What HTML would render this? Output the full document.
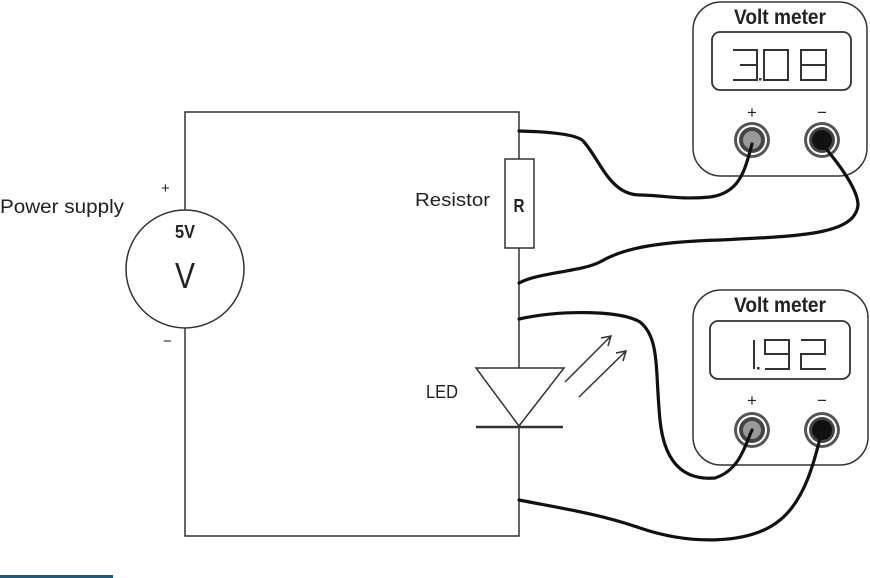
<!DOCTYPE html>
<html><head><style>
html,body{margin:0;padding:0;background:#fff;width:870px;height:578px;overflow:hidden}
text{font-family:"Liberation Sans",sans-serif;fill:#222}
</style></head><body>
<svg width="870" height="578" viewBox="0 0 870 578" xmlns="http://www.w3.org/2000/svg">
<g fill="none" stroke="#333" stroke-width="1.5">
<path d="M185 210 V112 H519 V159 M519 248 V368 M519 427 V536 H185 V328"/>
<circle cx="185" cy="269" r="59"/>
<rect x="505" y="159" width="29" height="89" fill="#fff"/>
<path d="M476 368 H564 L519 426 Z"/>
<path d="M476 427 H563" stroke-width="2.5"/>
<path d="M565 382 L611 336 M601 338 L611 336 L608 346"/>
<path d="M579 397 L626 351 M616 353 L626 351 L623 361"/>
</g>
<text x="0" y="213" font-size="19" textLength="124" lengthAdjust="spacingAndGlyphs">Power supply</text>
<text x="161" y="193" font-size="15">+</text>
<text x="163" y="346" font-size="15">−</text>
<text x="185" y="238" font-size="18" text-anchor="middle" font-weight="bold" textLength="20" lengthAdjust="spacingAndGlyphs">5V</text>
<text x="185" y="288" font-size="36" text-anchor="middle" textLength="20" lengthAdjust="spacingAndGlyphs">V</text>
<text x="415" y="206" font-size="18" textLength="75" lengthAdjust="spacingAndGlyphs">Resistor</text>
<text x="519" y="212" font-size="18" text-anchor="middle" font-weight="bold" textLength="11" lengthAdjust="spacingAndGlyphs">R</text>
<text x="426" y="398" font-size="18" textLength="32" lengthAdjust="spacingAndGlyphs">LED</text>

<g>
<rect x="693" y="2" width="174" height="174" rx="28" fill="#fff" stroke="#333" stroke-width="1.5"/>
<text x="734" y="24" font-size="21" font-weight="bold" textLength="92" lengthAdjust="spacingAndGlyphs">Volt meter</text>
<rect x="712" y="32" width="139" height="58" rx="8" fill="#fff" stroke="#333" stroke-width="1.8"/>
<g fill="none" stroke="#333" stroke-width="2">
<path d="M733 50 H757 V80 H733 M740 65 H757"/>
<path d="M764 50 H788 V80 H764 Z"/>
<path d="M801 50 H826 V80 H801 Z M801 65 H826"/>
</g>
<rect x="759" y="78" width="2.5" height="2.5" fill="#333"/>
<text x="752" y="118" font-size="17" text-anchor="middle">+</text>
<text x="822" y="118" font-size="17" text-anchor="middle">−</text>
<circle cx="752" cy="140" r="18" fill="#555"/><circle cx="752" cy="140" r="15" fill="#fff"/><circle cx="752" cy="140" r="13" fill="#444"/><circle cx="752" cy="140" r="9" fill="#999"/>
<circle cx="822" cy="140" r="18" fill="#555"/><circle cx="822" cy="140" r="15" fill="#fff"/><circle cx="822" cy="140" r="13" fill="#444"/><circle cx="822" cy="140" r="10" fill="#111"/>
</g>
<g>
<rect x="693" y="290" width="175" height="175" rx="28" fill="#fff" stroke="#333" stroke-width="1.5"/>
<text x="734" y="312" font-size="21" font-weight="bold" textLength="92" lengthAdjust="spacingAndGlyphs">Volt meter</text>
<rect x="710" y="321" width="140" height="58" rx="8" fill="#fff" stroke="#333" stroke-width="1.8"/>
<g fill="none" stroke="#333" stroke-width="2">
<path d="M754 340 V369"/>
<path d="M789 354 H765 V340 H789 V369 H765"/>
<path d="M801 340 H825 V354 H801 V369 H826"/>
</g>
<rect x="757" y="367" width="2.5" height="2.5" fill="#333"/>
<text x="752" y="406" font-size="17" text-anchor="middle">+</text>
<text x="822" y="406" font-size="17" text-anchor="middle">−</text>
<circle cx="752" cy="430" r="18" fill="#555"/><circle cx="752" cy="430" r="15" fill="#fff"/><circle cx="752" cy="430" r="13" fill="#444"/><circle cx="752" cy="430" r="9" fill="#999"/>
<circle cx="822" cy="430" r="18" fill="#555"/><circle cx="822" cy="430" r="15" fill="#fff"/><circle cx="822" cy="430" r="13" fill="#444"/><circle cx="822" cy="430" r="10" fill="#111"/>
</g>
<g fill="none" stroke="#111" stroke-width="3.2" stroke-linecap="round">
<path d="M519 131 C560 132 580 136 584 142 C600 160 610 195 640 195 C660 195 680 200 710 197 C740 193 745 170 752 144"/>
<path d="M822 144 C840 165 858 190 858 205 C855 235 800 236 720 240 C650 242 620 250 600 262 C580 272 540 272 519 283"/>
<path d="M519 319 C560 310 620 310 640 322 C660 338 655 370 660 420 C665 470 690 480 715 478 C740 470 745 445 752 430"/>
<path d="M822 430 C815 460 805 500 780 520 C750 545 690 545 640 528 C600 514 560 508 519 500"/>
</g>
<rect x="0" y="575" width="113" height="3" fill="#0e5f86"/>
</svg>
</body></html>
